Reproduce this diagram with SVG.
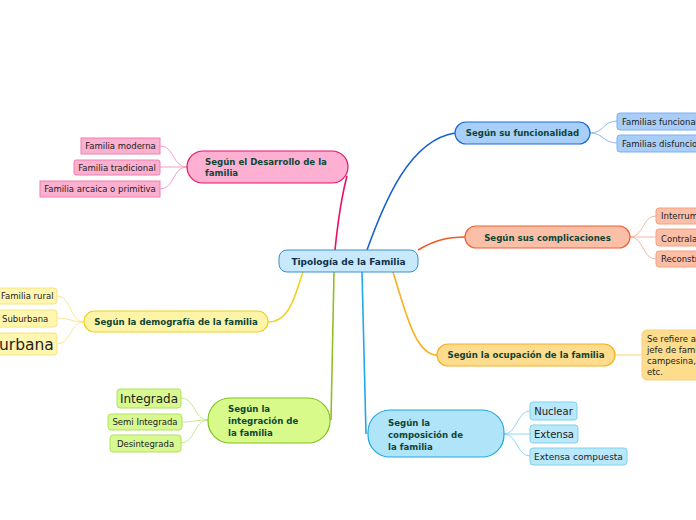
<svg xmlns="http://www.w3.org/2000/svg" width="696" height="520" viewBox="0 0 696 520">
<style>
text{font-family:"DejaVu Sans","Verdana",sans-serif;}
.t{font-weight:bold;fill:#0f4535;font-size:8.6px;}
.c{font-size:8.5px;fill:#222;}
.link{fill:none;stroke-width:1.6;}
.sub{fill:none;stroke-width:1;}
</style>
<rect width="696" height="520" fill="#ffffff"/>
<g id="connectors">
<path class="link" stroke="#e8106a" d="M335,250 C338,220 342,195 347,176"/>
<path class="link" stroke="#1560d0" d="M367,250 C385,200 410,140 455,133"/>
<path class="link" stroke="#f05a24" d="M418,250 C435,240 448,237 465,237"/>
<path class="link" stroke="#f8b020" d="M393,272 C405,310 415,355 437,355"/>
<path class="link" stroke="#f0d020" d="M303,272 C295,295 290,322 268,322"/>
<path class="link" stroke="#90c020" d="M334,272 L331,420"/>
<path class="link" stroke="#20a8e8" d="M362,272 L366,434"/>
<g stroke="#f8a0c8" class="sub">
<path d="M187,167 C172,167 175,146 160,146"/>
<path d="M187,167 L160,167"/>
<path d="M187,167 C172,167 175,189 160,189"/>
</g>
<g stroke="#90b8f0" class="sub">
<path d="M590,133 C604,133 603,121 617,121"/>
<path d="M590,133 C604,133 603,143 617,143"/>
</g>
<g stroke="#f8b8a0" class="sub">
<path d="M630,237 C644,237 642,216 656,216"/>
<path d="M630,237 L656,237"/>
<path d="M630,237 C644,237 642,259 656,259"/>
</g>
<path class="sub" stroke="#fad070" d="M615,355 L642,355"/>
<g stroke="#f8e890" class="sub">
<path d="M84,322 C70,322 71,296 57,296"/>
<path d="M84,322 C70,322 71,318 57,318"/>
<path d="M84,322 C70,322 71,344 57,344"/>
</g>
<g stroke="#c8e890" class="sub">
<path d="M208,420 C194,420 195,398 181,398"/>
<path d="M208,420 C194,420 196,422 182,422"/>
<path d="M208,420 C194,420 195,443 181,443"/>
</g>
<g stroke="#90d8f0" class="sub">
<path d="M504,434 C517,434 517,411 530,411"/>
<path d="M504,434 L530,434"/>
<path d="M504,434 C517,434 517,456 530,456"/>
</g>
</g>
<g id="center">
<rect x="279" y="250" width="139" height="22" rx="8" fill="#c8e9fb" stroke="#3a8fd0" stroke-width="1"/>
<text x="348.5" y="264.5" text-anchor="middle" font-weight="bold" font-size="9px" fill="#10304a">Tipología de la Familia</text>
</g>
<g id="desarrollo">
<rect x="187" y="151" width="161" height="32" rx="16" fill="#fdb0d2" stroke="#e8106a" stroke-width="1.2"/>
<text class="t" x="205" y="165">Según el Desarrollo de la</text>
<text class="t" x="205" y="176">familia</text>
</g>
<g id="moderna"><rect x="81" y="138" width="79" height="16" fill="#fbb0d0" stroke="#f07fb0"/><text class="c" x="120.5" y="149" text-anchor="middle">Familia moderna</text></g>
<g id="tradicional"><rect x="74" y="160" width="86" height="15" rx="2" fill="#fbb0d0" stroke="#f07fb0"/><text class="c" x="117" y="170.5" text-anchor="middle">Familia tradicional</text></g>
<g id="arcaica"><rect x="40" y="181" width="120" height="16" fill="#fbb0d0" stroke="#f07fb0"/><text class="c" x="100" y="192" text-anchor="middle">Familia arcaica o primitiva</text></g>
<g id="funcionalidad">
<rect x="455" y="122" width="135" height="22" rx="11" fill="#a8cff8" stroke="#1a6ad8" stroke-width="1.2"/>
<text class="t" x="522.5" y="136" text-anchor="middle">Según su funcionalidad</text>
</g>
<g id="funcionales"><rect x="617" y="113" width="85" height="17" rx="3" fill="#a8cdf8" stroke="#7ab0f0"/><text class="c" x="622" y="125">Familias funcionales</text></g>
<g id="disfuncionales"><rect x="617" y="135" width="85" height="17" rx="3" fill="#a8cdf8" stroke="#7ab0f0"/><text class="c" x="622" y="147">Familias disfuncionales</text></g>
<g id="complicaciones">
<rect x="465" y="226" width="165" height="22" rx="11" fill="#fbbfa8" stroke="#f06030" stroke-width="1.2"/>
<text class="t" x="547.5" y="241" text-anchor="middle" font-size="10.5px">Según sus complicaciones</text>
</g>
<g id="interrumpida"><rect x="656" y="208" width="46" height="16" rx="3" fill="#fbbfa8" stroke="#f8a080"/><text class="c" x="661" y="219">Interrumpida</text></g>
<g id="contralada"><rect x="656" y="229" width="46" height="17" rx="3" fill="#fbbfa8" stroke="#f8a080"/><text class="c" x="661" y="241.5" font-size="11px">Contralada</text></g>
<g id="reconstruida"><rect x="656" y="251" width="46" height="16" rx="3" fill="#fbbfa8" stroke="#f8a080"/><text class="c" x="661" y="262" font-size="7px">Reconstruida</text></g>
<g id="ocupacion">
<rect x="437" y="344" width="178" height="22" rx="11" fill="#fddc8e" stroke="#f5b020" stroke-width="1.2"/>
<text class="t" x="526" y="358" text-anchor="middle">Según la ocupación de la familia</text>
</g>
<g id="refiere">
<rect x="642" y="330" width="60" height="50" rx="5" fill="#fddc8e" stroke="#f8d080"/>
<text class="c" x="647" y="342">Se refiere a la ocupación del</text>
<text class="c" x="647" y="353">jefe de familia: obrera,</text>
<text class="c" x="647" y="364">campesina, profesional,</text>
<text class="c" x="647" y="375">etc.</text>
</g>
<g id="demografia">
<rect x="84" y="311" width="184" height="21" rx="10.5" fill="#fdf4a8" stroke="#f0d020" stroke-width="1.2"/>
<text class="t" x="176" y="325" text-anchor="middle">Según la demografía de la familia</text>
</g>
<g id="rural"><rect x="-5" y="288" width="62" height="16" rx="3" fill="#fff6b0" stroke="#f8e480"/><text class="c" x="1" y="299">Familia rural</text></g>
<g id="suburbana"><rect x="-5" y="310" width="62" height="17" rx="3" fill="#fff6b0" stroke="#f8e480"/><text class="c" x="2" y="322">Suburbana</text></g>
<g id="urbana"><rect x="-5" y="333" width="62" height="22" rx="3" fill="#fff6b0" stroke="#f8e480"/><text x="-1" y="350" font-size="15.5px" fill="#222">urbana</text></g>
<g id="integracion">
<rect x="208" y="398" width="122" height="45" rx="22" fill="#d8fa8a" stroke="#80c020" stroke-width="1.2"/>
<text class="t" x="228" y="412" font-size="10px">Según la</text>
<text class="t" x="228" y="424" font-size="10px">integración de</text>
<text class="t" x="228" y="436" font-size="10px">la familia</text>
</g>
<g id="integrada"><rect x="117" y="389" width="64" height="19" rx="3" fill="#d8f890" stroke="#b0e060"/><text x="149" y="403" text-anchor="middle" font-size="12px" fill="#222">Integrada</text></g>
<g id="semi"><rect x="108" y="414" width="74" height="16" rx="3" fill="#d8f890" stroke="#b0e060"/><text class="c" x="145" y="425" text-anchor="middle">Semi Integrada</text></g>
<g id="desintegrada"><rect x="110" y="435" width="71" height="17" rx="3" fill="#d8f890" stroke="#b0e060"/><text class="c" x="145.5" y="447" text-anchor="middle">Desintegrada</text></g>
<g id="composicion">
<rect x="368" y="410" width="136" height="47" rx="22" fill="#b0e4f8" stroke="#20a8e0" stroke-width="1.2"/>
<text class="t" x="388" y="426" font-size="10.5px">Según la</text>
<text class="t" x="388" y="438" font-size="10.5px">composición de</text>
<text class="t" x="388" y="450" font-size="10.5px">la familia</text>
</g>
<g id="nuclear"><rect x="530" y="402" width="47" height="18" rx="3" fill="#b8e8fa" stroke="#80d0f0"/><text x="553.5" y="415" text-anchor="middle" font-size="10px" fill="#222">Nuclear</text></g>
<g id="extensa"><rect x="530" y="425" width="48" height="18" rx="3" fill="#b8e8fa" stroke="#80d0f0"/><text x="554" y="438" text-anchor="middle" font-size="10px" fill="#222">Extensa</text></g>
<g id="compuesta"><rect x="530" y="448" width="97" height="17" rx="3" fill="#b8e8fa" stroke="#80d0f0"/><text x="578.5" y="460" text-anchor="middle" font-size="9px" fill="#222">Extensa compuesta</text></g>
</svg>
